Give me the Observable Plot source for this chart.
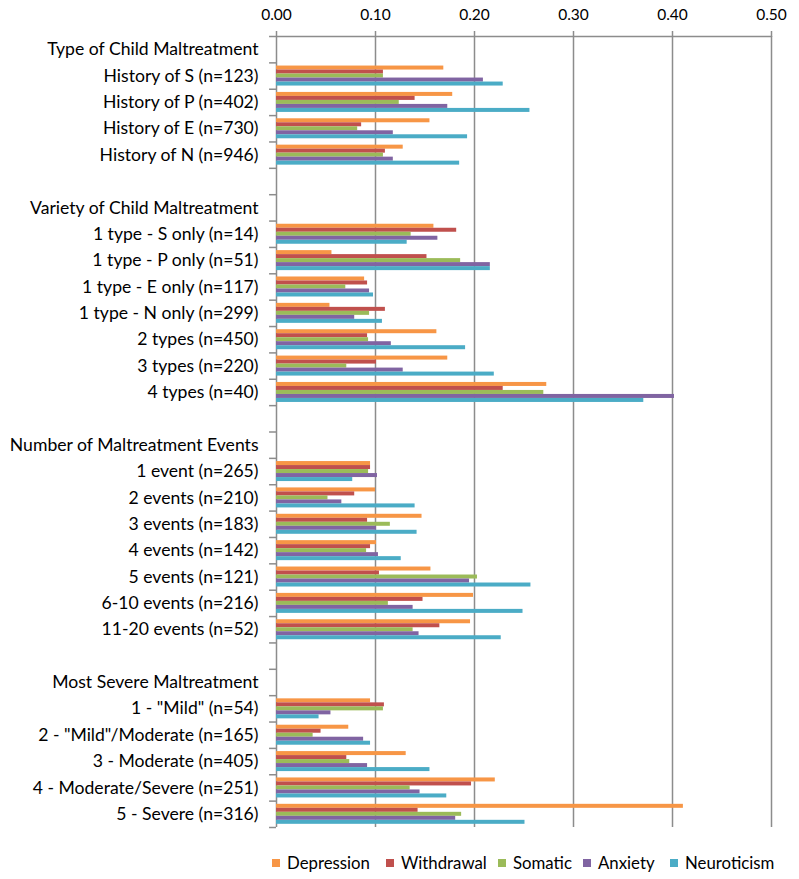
<!DOCTYPE html>
<html>
<head>
<meta charset="utf-8">
<script src="https://cdn.jsdelivr.net/npm/d3@7"></script>
<script src="https://cdn.jsdelivr.net/npm/@observablehq/plot@0.6"></script>
<style>
  body { margin: 0; background: #fff; font-family: Lato, "Open Sans", sans-serif; }
  #legend { position: relative; height: 39px; font-size: 16.8px; color: #000; }
  #legend .item { position: absolute; top: 12px; display: flex; align-items: center; white-space: nowrap; }
  #legend .sw { width: 8px; height: 8px; margin-right: 7px; }
</style>
</head>
<body>
<div id="chart"></div>
<div id="legend"></div>
<script>
// Row order (headers and blank spacer rows included)
const rows = [
  "Type of Child Maltreatment",
  "History of S (n=123)", "History of P (n=402)", "History of E (n=730)", "History of N (n=946)",
  " ",
  "Variety of Child Maltreatment",
  "1 type - S only (n=14)", "1 type - P only (n=51)", "1 type - E only (n=117)", "1 type - N only (n=299)",
  "2 types (n=450)", "3 types (n=220)", "4 types (n=40)",
  "  ",
  "Number of Maltreatment Events",
  "1 event (n=265)", "2 events (n=210)", "3 events (n=183)", "4 events (n=142)",
  "5 events (n=121)", "6-10 events (n=216)", "11-20 events (n=52)",
  "   ",
  "Most Severe Maltreatment",
  "1 - \"Mild\" (n=54)", "2 - \"Mild\"/Moderate (n=165)", "3 - Moderate (n=405)",
  "4 - Moderate/Severe (n=251)", "5 - Severe (n=316)"
];

// Data categories (rows that carry bars)
const categories = [
  "History of S (n=123)", "History of P (n=402)", "History of E (n=730)", "History of N (n=946)",
  "1 type - S only (n=14)", "1 type - P only (n=51)", "1 type - E only (n=117)", "1 type - N only (n=299)",
  "2 types (n=450)", "3 types (n=220)", "4 types (n=40)",
  "1 event (n=265)", "2 events (n=210)", "3 events (n=183)", "4 events (n=142)",
  "5 events (n=121)", "6-10 events (n=216)", "11-20 events (n=52)",
  "1 - \"Mild\" (n=54)", "2 - \"Mild\"/Moderate (n=165)", "3 - Moderate (n=405)",
  "4 - Moderate/Severe (n=251)", "5 - Severe (n=316)"
];

const seriesNames = ["Depression", "Withdrawal", "Somatic", "Anxiety", "Neuroticism"];
const seriesColors = ["#F79646", "#C0504D", "#9BBB59", "#8064A2", "#4BACC6"];

const depression  = [0.169, 0.178, 0.155, 0.128, 0.159, 0.056, 0.089, 0.054, 0.162, 0.173, 0.273, 0.095, 0.100, 0.147, 0.101, 0.156, 0.199, 0.196, 0.095, 0.073, 0.131, 0.221, 0.411];
const withdrawal  = [0.108, 0.140, 0.086, 0.110, 0.182, 0.152, 0.092, 0.110, 0.092, 0.101, 0.229, 0.095, 0.079, 0.092, 0.095, 0.104, 0.148, 0.165, 0.109, 0.045, 0.071, 0.197, 0.143];
const somatic     = [0.108, 0.124, 0.082, 0.108, 0.136, 0.186, 0.070, 0.094, 0.093, 0.071, 0.270, 0.093, 0.052, 0.115, 0.091, 0.203, 0.113, 0.138, 0.108, 0.037, 0.074, 0.135, 0.187];
const anxiety     = [0.209, 0.173, 0.118, 0.118, 0.163, 0.216, 0.094, 0.079, 0.116, 0.128, 0.402, 0.102, 0.066, 0.101, 0.103, 0.195, 0.138, 0.144, 0.055, 0.088, 0.092, 0.145, 0.181];
const neuroticism = [0.229, 0.256, 0.193, 0.185, 0.132, 0.216, 0.098, 0.107, 0.191, 0.220, 0.371, 0.077, 0.140, 0.142, 0.126, 0.257, 0.249, 0.227, 0.043, 0.095, 0.155, 0.172, 0.251];

const xTicks = [0, 0.1, 0.2, 0.3, 0.4, 0.5];

const seriesValues = [depression, withdrawal, somatic, anxiety, neuroticism];

const width = 799, height = 840;
const marginTop = 36, marginBottom = 13, marginLeft = 276, marginRight = 28;
const step = (height - marginTop - marginBottom) / rows.length;
const barH = 4;
const gridColor = "#8c8c8c";

const barMarks = seriesNames.map((name, i) => {
  const data = categories.map((c, j) => ({category: c, value: seriesValues[i][j]}));
  const inset = (step - barH) / 2;
  return Plot.barX(data, {
    y: "category", x: "value",
    fill: seriesColors[i],
    insetTop: inset, insetBottom: inset,
    dy: (i - 2) * barH
  });
});

const chart = Plot.plot({
  width, height, marginTop, marginBottom, marginLeft, marginRight,
  style: {fontFamily: "Lato, 'Open Sans', sans-serif", fontSize: "15px", color: "#000", background: "#fff"},
  x: {domain: [0, 0.5]},
  y: {domain: rows, padding: 0, round: false},
  marks: [
    Plot.ruleX(xTicks, {stroke: gridColor, strokeWidth: 1.5}),
    // top axis line
    Plot.ruleY([rows[0]], {stroke: gridColor, strokeWidth: 1.5, dy: -step / 2}),
    // left-axis boundary ticks
    Plot.ruleY(rows, {x1: -0.007, x2: 0, stroke: gridColor, strokeWidth: 1.5, dy: -step / 2, clip: false}),
    Plot.ruleY([rows[rows.length - 1]], {x1: -0.007, x2: 0, stroke: gridColor, strokeWidth: 1.5, dy: step / 2}),
    ...barMarks,
    Plot.axisX({anchor: "top", ticks: xTicks, tickFormat: d3.format(".2f"), tickSize: 6, tickPadding: 11, stroke: gridColor, strokeWidth: 1.5, fontSize: 15.5, label: null}),
    Plot.axisY({tickSize: 0, tickPadding: 18, fontSize: 17.6, label: null})
  ]
});
document.getElementById("chart").appendChild(chart);

const legend = document.getElementById("legend");
const legendX = [272, 386, 498, 583, 670];
seriesNames.forEach((name, i) => {
  const item = document.createElement("div");
  item.className = "item";
  item.style.left = legendX[i] + "px";
  const sw = document.createElement("span");
  sw.className = "sw";
  sw.style.background = seriesColors[i];
  const t = document.createElement("span");
  t.textContent = name;
  item.appendChild(sw);
  item.appendChild(t);
  legend.appendChild(item);
});
</script>
</body>
</html>
